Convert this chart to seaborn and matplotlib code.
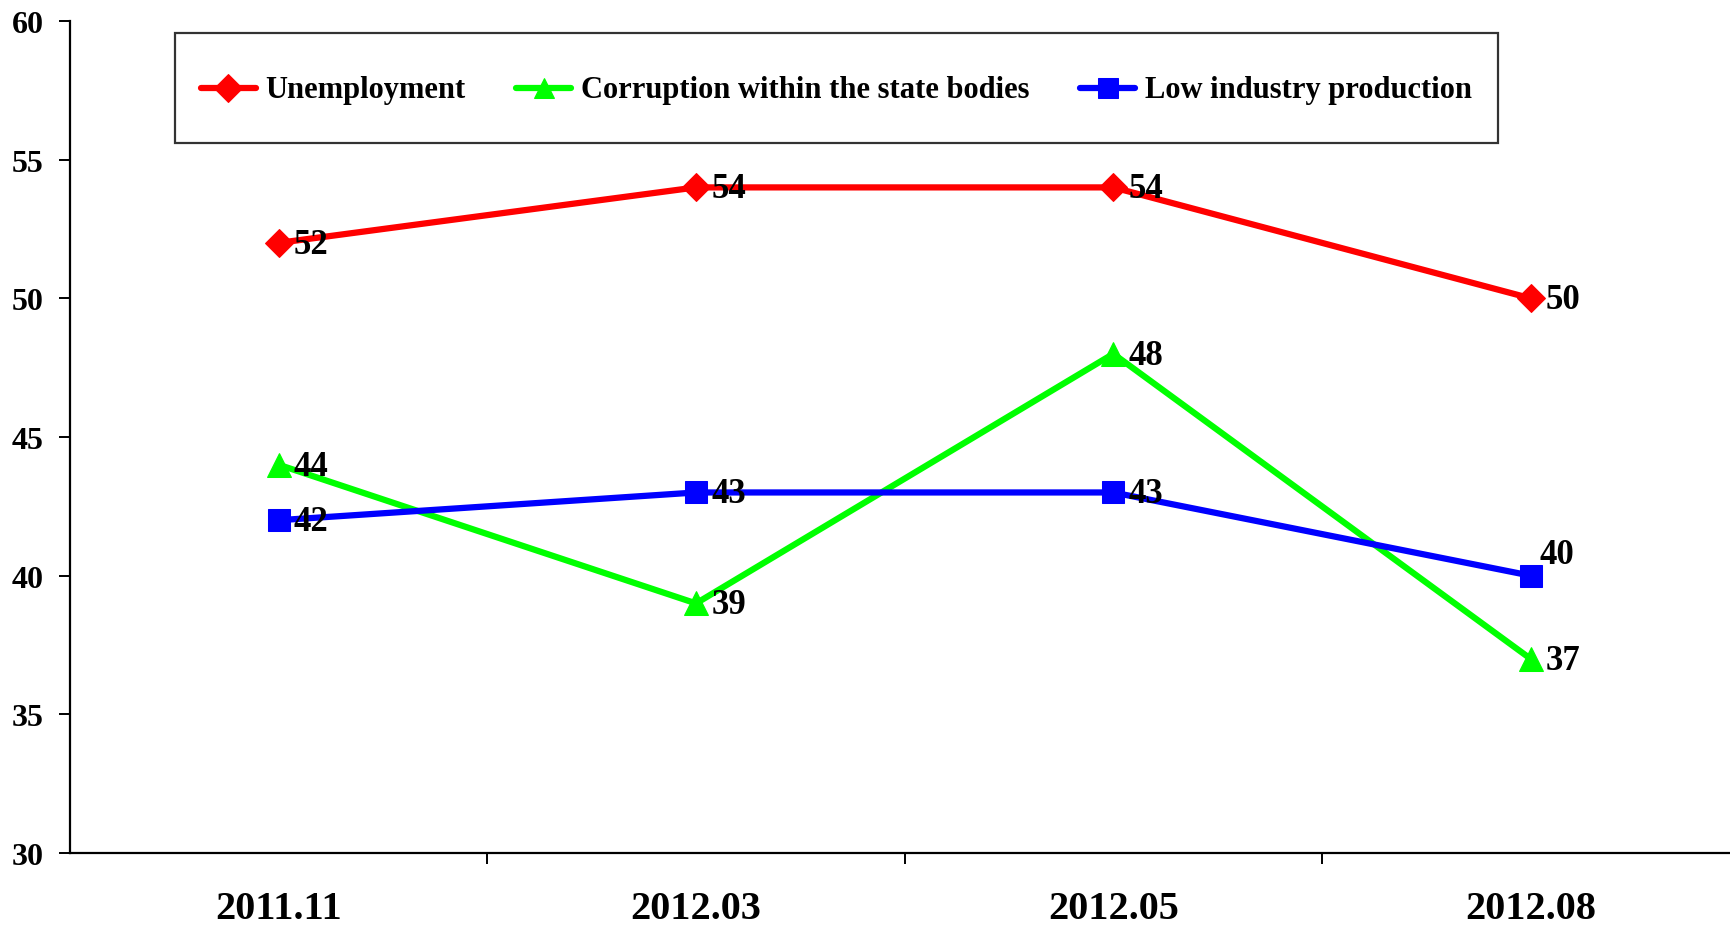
import matplotlib
matplotlib.use("Agg")
import matplotlib.pyplot as plt
import seaborn as sns
import pandas as pd
import numpy as np

periods = ["2011.11", "2012.03", "2012.05", "2012.08"]
unemployment = [52, 54, 54, 50]
corruption = [44, 39, 48, 37]
low_industry = [42, 43, 43, 40]
series_names = ["Unemployment", "Corruption within the state bodies", "Low industry production"]
y_ticks = [30, 35, 40, 45, 50, 55, 60]

sns.set_theme(style="white")
plt.rcParams['font.family'] = ['Liberation Serif', 'DejaVu Serif']
plt.rcParams['font.weight'] = 'bold'
plt.rcParams['text.color'] = 'black'
plt.rcParams['xtick.color'] = 'black'
plt.rcParams['ytick.color'] = 'black'
plt.rcParams['axes.labelcolor'] = 'black'

fig = plt.figure(figsize=(17.31, 9.28), dpi=100)
ax = fig.add_axes([70/1731, 1 - 854/928, 1 - 70/1731, (854 - 22)/928])

pos = list(range(len(periods)))
styles = [
    (unemployment, "#FF0000", "D", 14, 14),
    (corruption, "#00FF00", "^", 17, 15),
    (low_industry, "#0000FF", "s", 16, 14),
]
for (vals, col, mk, ms, lms), name in zip(styles, series_names):
    df = pd.DataFrame({"x": pos, "y": vals})
    sns.lineplot(data=df, x="x", y="y", ax=ax, color=col, marker=mk, markersize=ms,
                 markeredgecolor=col, linewidth=4.5, label=name)

# value labels
for vals in [unemployment, corruption]:
    for i, v in enumerate(vals):
        ax.annotate(str(v), (i, v), xytext=(11, -1), textcoords="offset points",
                    ha="left", va="center", fontsize=25, fontweight="bold", color="black")
for i, v in enumerate(low_industry):
    off = (6, 15) if i == 3 else (11, -1)
    ax.annotate(str(v), (i, v), xytext=off, textcoords="offset points",
                ha="left", va="center", fontsize=25, fontweight="bold", color="black")

ax.set_xlim(-0.5, 3.48)
ax.set_ylim(30, 60)
ax.set_yticks(y_ticks)
ax.set_yticklabels([str(t) for t in y_ticks])
ax.set_xticks(pos)
ax.set_xticklabels(periods)
ax.set_xticks([0.5, 1.5, 2.5], minor=True)
ax.tick_params(axis="x", which="major", length=0, pad=27, labelsize=29, labelcolor="black")
ax.tick_params(axis="x", which="minor", length=8, width=1.4, direction="out", color="black", bottom=True)
ax.tick_params(axis="y", length=8, width=1.4, direction="out", color="black", left=True, pad=11,
               labelsize=23, labelcolor="black")
for lab in ax.get_xticklabels() + ax.get_yticklabels():
    lab.set_fontweight("bold")
ax.set_xlabel("")
ax.set_ylabel("")
for s in ["top", "right"]:
    ax.spines[s].set_visible(False)
for s in ["left", "bottom"]:
    ax.spines[s].set_color("black")
    ax.spines[s].set_linewidth(1.6)
ax.grid(False)

leg = ax.legend(loc="upper left", bbox_to_anchor=(0.063, 0.985), ncol=3, frameon=True,
                fancybox=False, edgecolor="black", handlelength=1.8, handleheight=2.5,
                handletextpad=0.33, columnspacing=1.65, borderpad=0.85, borderaxespad=0,
                prop={"weight": "bold", "size": 22})
leg.get_frame().set_linewidth(1.6)
for h, (_, _, _, _, lms) in zip(leg.legend_handles, styles):
    h.set_markersize(lms)
    h.set_linewidth(4.5)
    h.set_ydata(np.asarray(h.get_ydata(), dtype=float) - 7)
for t in leg.get_texts():
    t.set_color("black")

fig.savefig("out.png", dpi=100, facecolor="white")
